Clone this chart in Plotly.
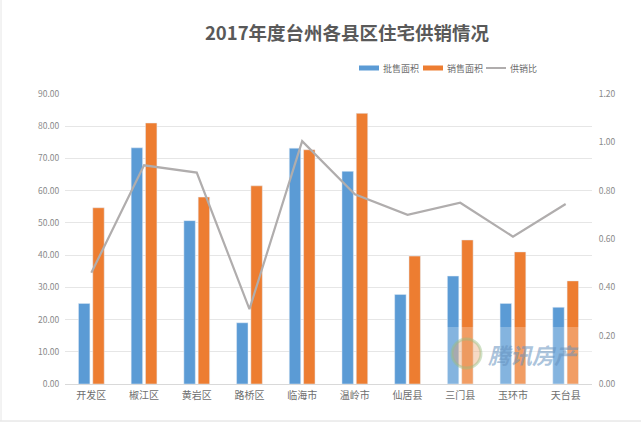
import plotly.graph_objects as go

categories = ["开发区","椒江区","黄岩区","路桥区","临海市","温岭市","仙居县","三门县","玉环市","天台县"]
approved = [25.0,73.3,50.7,19.0,73.2,66.0,27.8,33.5,25.0,23.8]
sold = [54.7,81.0,58.0,61.5,72.7,84.0,39.7,44.7,41.0,32.0]
ratio = [0.46,0.905,0.875,0.31,1.005,0.785,0.70,0.75,0.61,0.745]
left_ticks = [i*10 for i in range(10)]
right_ticks = [i*0.2 for i in range(7)]
names = ["批售面积", "销售面积", "供销比"]
colors = ["#5b9bd5", "#ed7d31", "#b0adad"]

W, H = 641, 423
L, R, T, B = 65, 592, 94, 384
FONT = "Noto Sans CJK SC"
GREY = "#6e6e6e"

fx = lambda x: (x - L) / (R - L)
fy = lambda y: (B - y) / (B - T)

fig = go.Figure()
fig.add_bar(x=categories, y=approved, name=names[0], marker_color=colors[0], showlegend=False)
fig.add_bar(x=categories, y=sold, name=names[1], marker_color=colors[1], showlegend=False)
fig.add_scatter(x=categories, y=ratio, name=names[2], mode="lines", yaxis="y2",
                line=dict(color=colors[2], width=2.2), showlegend=False)

shapes = [
    dict(type="rect", xref="paper", yref="paper", x0=fx(440), x1=fx(600),
         y0=fy(384), y1=fy(327), fillcolor="rgba(255,255,255,0.25)", line_width=0, layer="above"),
    dict(type="line", xref="paper", yref="paper", x0=fx(0), x1=fx(W), y0=fy(421), y1=fy(421),
         line=dict(color="#dcdcdc", width=1)),
    dict(type="line", xref="paper", yref="paper", x0=fx(1), x1=fx(1), y0=fy(421), y1=fy(0),
         line=dict(color="#e6e6e6", width=1)),
    dict(type="circle", xref="paper", yref="paper", x0=fx(452), x1=fx(481), y0=fy(368), y1=fy(339),
         fillcolor="rgba(230,150,90,0.35)", line=dict(color="rgba(150,190,130,0.45)", width=3),
         layer="above"),
    # legend swatches
    dict(type="rect", xref="paper", yref="paper", x0=fx(359), x1=fx(379), y0=fy(70.5), y1=fy(65.5),
         fillcolor=colors[0], line_width=0),
    dict(type="rect", xref="paper", yref="paper", x0=fx(423), x1=fx(443), y0=fy(70.5), y1=fy(65.5),
         fillcolor=colors[1], line_width=0),
    dict(type="line", xref="paper", yref="paper", x0=fx(486), x1=fx(506), y0=fy(68), y1=fy(68),
         line=dict(color=colors[2], width=2)),
]
annotations = [
    dict(text="<i><b>腾讯房产</b></i>", xref="paper", yref="paper", x=fx(486), y=fy(354),
         xanchor="left", yanchor="middle", showarrow=False,
         font=dict(size=22, color="rgba(100,145,190,0.55)", family=FONT)),
]
for name, x in zip(names, [382, 446, 509]):
    annotations.append(dict(text=name, xref="paper", yref="paper", x=fx(x), y=fy(68),
                            xanchor="left", yanchor="middle", showarrow=False, xshift=0,
                            borderpad=0, font=dict(size=9, color=GREY, family=FONT)))

fig.update_layout(
    width=W, height=H, autosize=False,
    margin=dict(l=L, r=W-R, t=T, b=H-B),
    paper_bgcolor="white", plot_bgcolor="white",
    font=dict(family=FONT, size=10, color=GREY),
    barmode="group", bargap=0.457, bargroupgap=0.2,
    showlegend=False,
    title=dict(text="<b>2017年度台州各县区住宅供销情况</b>", x=347/W, xanchor="center",
               y=1-33.5/H, yanchor="middle", font=dict(size=18.5, color="#595959", family=FONT)),
    xaxis=dict(tickfont=dict(size=10, color=GREY), showline=True, linecolor="#d9d9d9",
               ticks="outside", ticklen=2, tickcolor="rgba(0,0,0,0)", showgrid=False, fixedrange=True),
    yaxis=dict(range=[0,90], tickvals=left_ticks, ticktext=[f"{v:.2f}" for v in left_ticks],
               tickfont=dict(size=8.5, color="#8a8a8a"), gridcolor="#e6e6e6", gridwidth=1,
               zeroline=False, ticks="outside", ticklen=3, tickcolor="rgba(0,0,0,0)"),
    yaxis2=dict(range=[0,1.2], overlaying="y", side="right", tickvals=right_ticks,
                ticktext=[f"{v:.2f}" for v in right_ticks], showgrid=False, zeroline=False,
                tickfont=dict(size=8.5, color="#8a8a8a"), ticks="outside", ticklen=4,
                tickcolor="rgba(0,0,0,0)"),
    shapes=shapes,
    annotations=annotations,
)
fig.write_html("out.html", config={"displayModeBar": False},
               post_script="document.body.style.margin='0';")
